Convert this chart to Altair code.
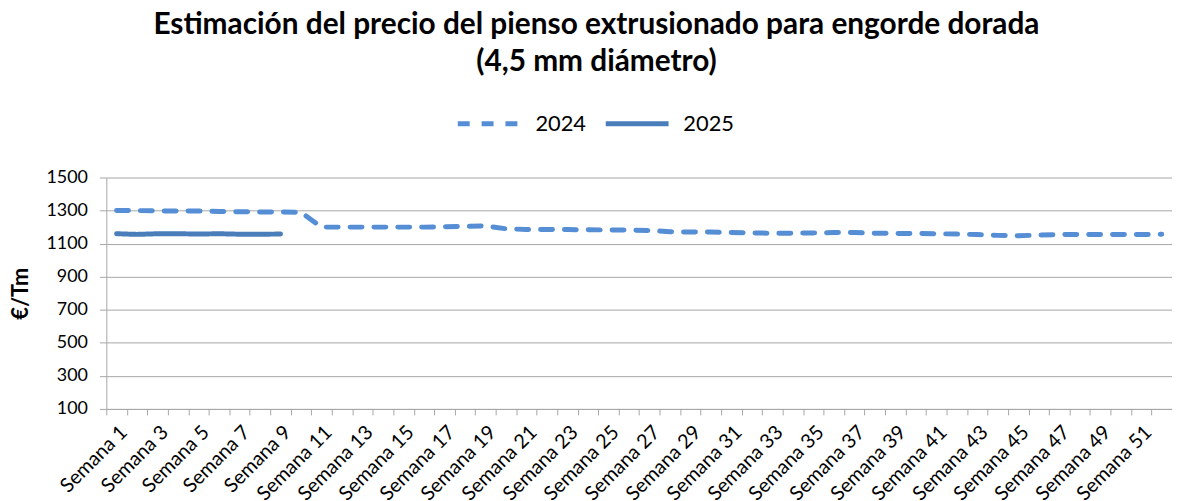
import altair as alt
import pandas as pd

weeks = [f"Semana {i}" for i in range(1, 53)]
years = ["2024", "2025"]

v2024 = [1300, 1300, 1298, 1297, 1297, 1295, 1293, 1292, 1292, 1290,
         1200, 1200, 1200, 1200, 1200, 1200, 1202, 1205, 1207, 1190,
         1186, 1185, 1185, 1184, 1183, 1182, 1180, 1172, 1170, 1170,
         1168, 1165, 1163, 1163, 1165, 1167, 1167, 1163, 1162, 1162,
         1160, 1158, 1155, 1150, 1148, 1152, 1155, 1155, 1155, 1155,
         1155, 1157]
v2025 = [1160, 1156, 1160, 1160, 1158, 1160, 1157, 1157, 1158]

rows = []
for i, v in enumerate(v2024):
    rows.append({"week": weeks[i], "year": "2024", "value": v, "order": i})
for i, v in enumerate(v2025):
    rows.append({"week": weeks[i], "year": "2025", "value": v, "order": i})
df = pd.DataFrame(rows)

FONT = "Lato"
GRID = "#a6a6a6"

legend_opts = dict(title=None, orient="none", direction="horizontal",
                   legendX=351, legendY=-89,
                   labelFont=FONT, labelFontSize=22, labelColor="#000000",
                   symbolType="stroke", symbolSize=4000, symbolStrokeWidth=5,
                   columnPadding=8, labelOffset=12)

chart = alt.Chart(df).mark_line(strokeWidth=5, strokeCap="round").encode(
    x=alt.X("week:N", sort=weeks, bandPosition=0.5,
            scale=alt.Scale(type="band", domain=weeks, paddingInner=0, paddingOuter=0),
            axis=alt.Axis(title=None, tickBand="extent", labelAngle=-45,
                          labelExpr="toNumber(split(datum.label, ' ')[1]) % 2 == 1 ? datum.label : ''",
                          labelFont=FONT, labelFontSize=20, labelColor="#000000",
                          labelAlign="right", labelBaseline="top", labelPadding=7,
                          domainColor=GRID, tickColor=GRID, tickSize=6, grid=False)),
    y=alt.Y("value:Q", scale=alt.Scale(domain=[100, 1500], nice=False, zero=False),
            axis=alt.Axis(title="€/Tm", values=[100, 300, 500, 700, 900, 1100, 1300, 1500],
                          format="d",
                          titleFont=FONT, titleFontSize=22, titleFontWeight="bold",
                          titleColor="#000000", titlePadding=14,
                          labelFont=FONT, labelFontSize=18, labelColor="#000000", labelPadding=12,
                          domainColor=GRID, tickColor=GRID, tickSize=7,
                          gridColor=GRID, gridWidth=1)),
    color=alt.Color("year:N", scale=alt.Scale(domain=years, range=["#558ED5", "#4A7EBB"]),
                    legend=alt.Legend(**legend_opts)),
    strokeDash=alt.StrokeDash("year:N", scale=alt.Scale(domain=years, range=[[12, 12], [1, 0]]),
                              legend=alt.Legend(**legend_opts)),
    order="order:Q",
).properties(
    width=1073, height=233,
    autosize=alt.AutoSizeParams(type="none"),
    padding={"left": 99, "top": 169, "right": 0, "bottom": 91},
    title=alt.TitleParams(text=["Estimación del precio del pienso extrusionado para engorde dorada",
                                "(4,5 mm diámetro)"],
                          font=FONT, fontSize=30, fontWeight="bold", color="#000000",
                          anchor="middle", frame="group", dx=-43, offset=12, lineHeight=38),
).configure_view(stroke=None)

chart.save("out.html", embed_options={"renderer": "svg", "actions": False})
